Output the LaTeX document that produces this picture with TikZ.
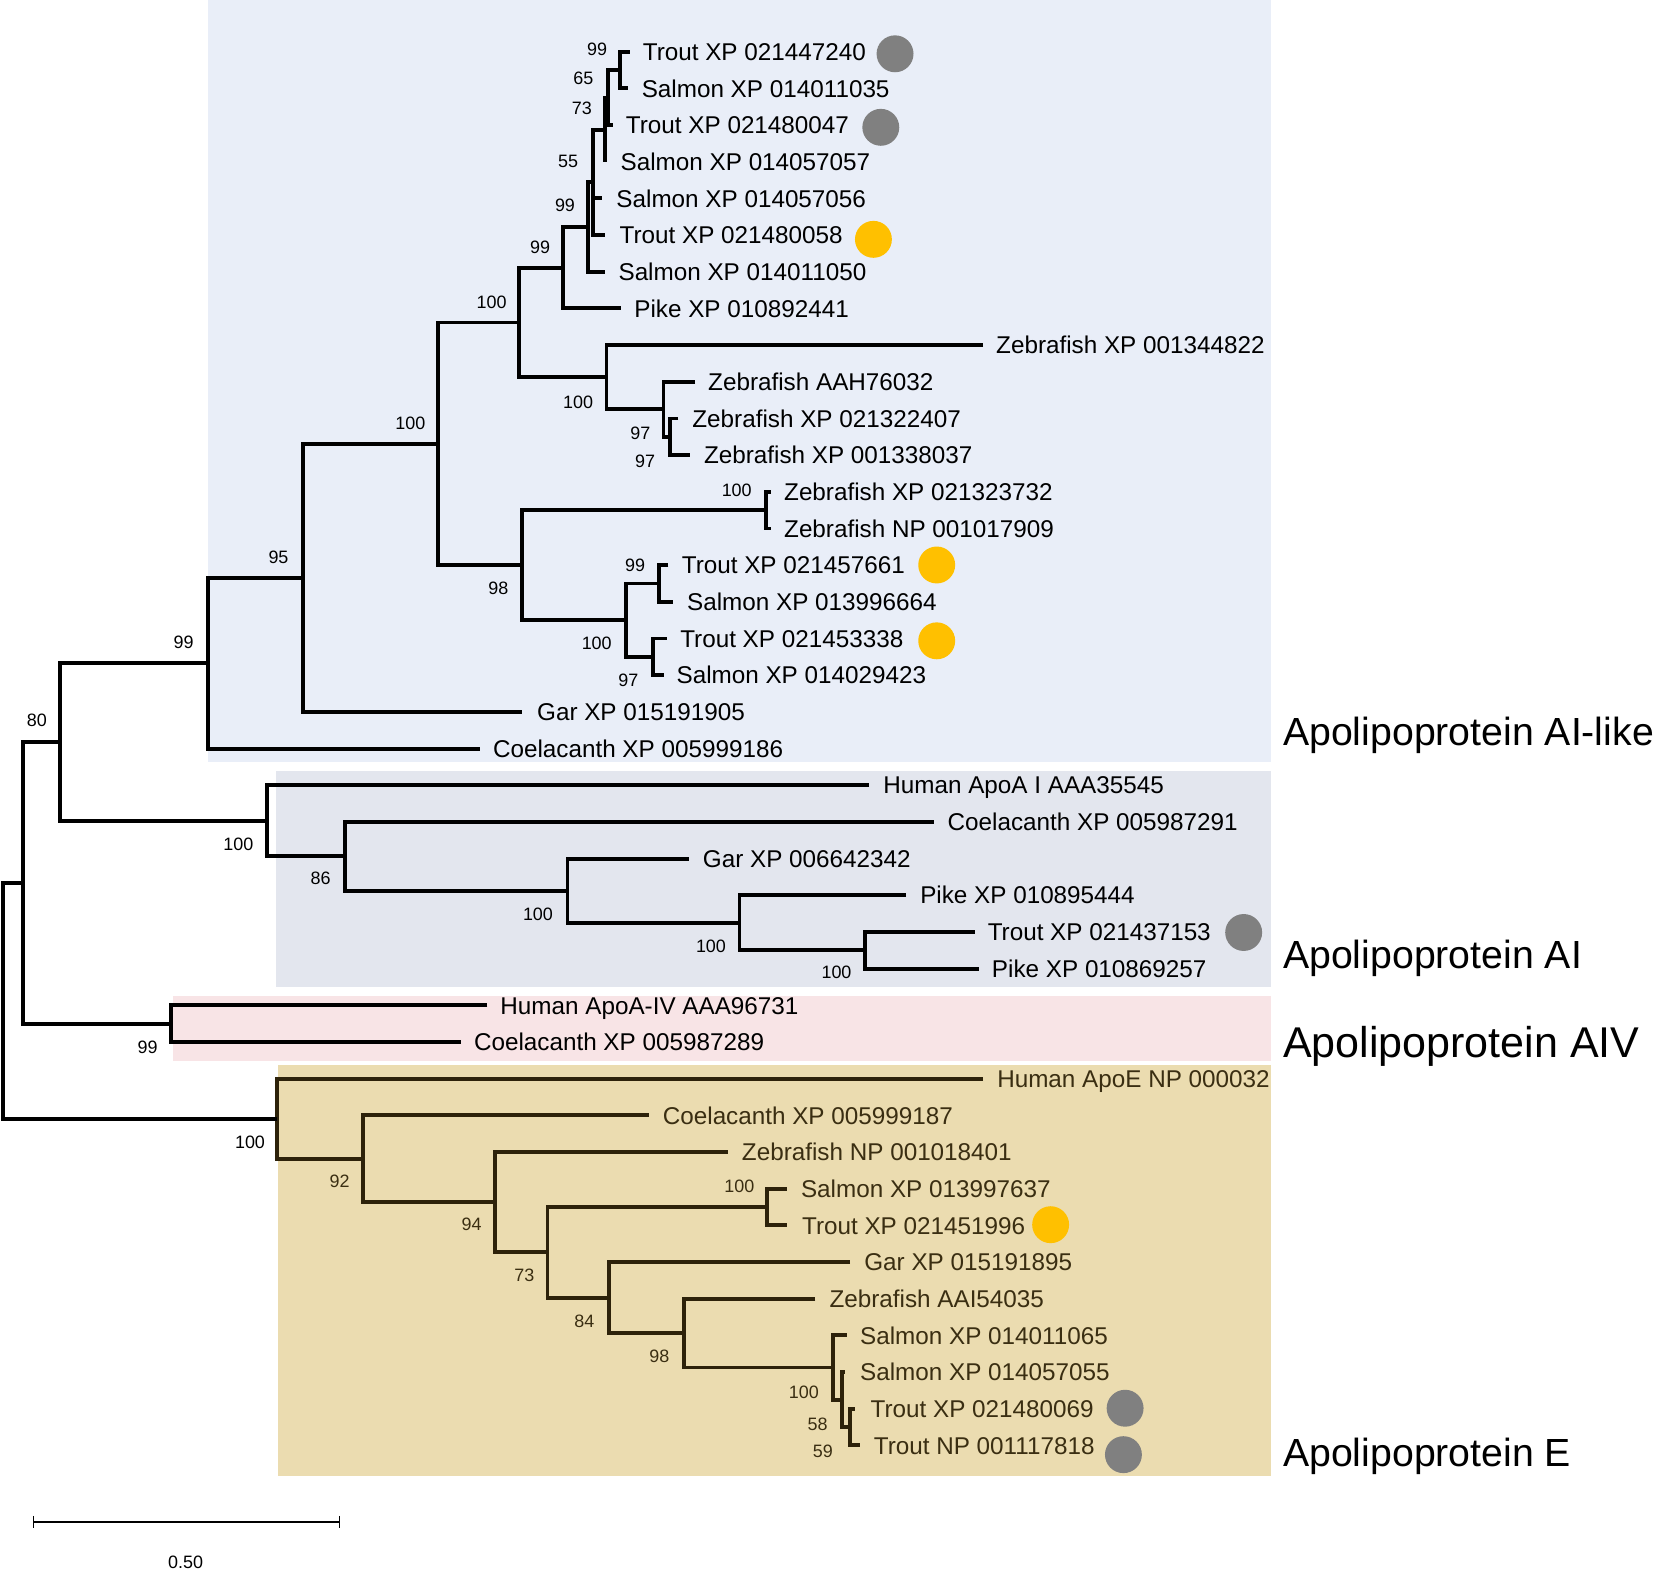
\documentclass[tikz,border=0pt]{standalone}
\usepackage{fontspec}
\setmainfont{Liberation Sans}
\usetikzlibrary{calc}
\definecolor{bgA}{RGB}{233,238,248}
\definecolor{bgB}{RGB}{227,230,238}
\definecolor{bgC}{RGB}{248,228,230}
\definecolor{bgD}{RGB}{235,220,176}
\definecolor{brn}{RGB}{45,34,10}
\definecolor{brntxt}{RGB}{58,46,18}
\definecolor{dotg}{RGB}{128,128,128}
\definecolor{doty}{RGB}{255,192,0}
\newcommand\mkleaf[5][]{%
  \coordinate (L#2) at (#3,{49+34.77*#2});
  \node[leaf,#1] (T#2) at (#4,{49+34.77*#2}) {#5};}
\newcommand\mknode[5][]{%
  \coordinate (#2m) at ($(#4)!0.5!(#5)$);
  \coordinate (#2) at (#3,0 |- #2m);
  \draw[br,#1] (#4) -| (#2) |- (#5);}
\begin{document}
\begin{tikzpicture}[x=0.5pt,y=-0.5pt,
  br/.style={line width=1.85pt},
  leaf/.style={anchor=west,inner sep=0pt,text height=8.25pt,text depth=0pt,font=\fontsize{11.5}{13}\selectfont},
  bs/.style={inner sep=0pt,font=\fontsize{8.5}{10}\selectfont},
  grp/.style={anchor=west,inner sep=0pt,text height=13.3pt,text depth=0pt,font=\fontsize{18.6}{22}\selectfont},
  dot/.style={circle,inner sep=0pt,minimum size=17.5pt,draw=none}]
\useasboundingbox (0,0) rectangle (1568,1488);
% backgrounds
\fill[bgA] (197,0) rectangle (1205,722);
\fill[bgB] (262,731) rectangle (1205,935.5);
\fill[bgC] (164,944) rectangle (1205,1005.5);
\fill[bgD] (264,1009.5) rectangle (1205,1399.5);
% leaves
\mkleaf{0}{597}{609}{Trout XP 021447240}
\mkleaf{1}{595}{608}{Salmon XP 014011035}
\mkleaf{2}{581}{593}{Trout XP 021480047}
\mkleaf{3}{573.6}{588}{Salmon XP 014057057}
\mkleaf{4}{570.4}{584}{Salmon XP 014057056}
\mkleaf{5}{574}{587}{Trout XP 021480058}
\mkleaf{6}{574}{586}{Salmon XP 014011050}
\mkleaf{7}{589}{601}{Pike XP 010892441}
\mkleaf{8}{932}{944}{Zebrafish XP 001344822}
\mkleaf{9}{659}{671}{Zebrafish AAH76032}
\mkleaf{10}{643}{656}{Zebrafish XP 021322407}
\mkleaf{11}{654}{667}{Zebrafish XP 001338037}
\mkleaf{12}{730.5}{743}{Zebrafish XP 021323732}
\mkleaf{13}{730.5}{743}{Zebrafish NP 001017909}
\mkleaf{14}{633.6}{646}{Trout XP 021457661}
\mkleaf{15}{638.4}{651}{Salmon XP 013996664}
\mkleaf{16}{632}{644.5}{Trout XP 021453338}
\mkleaf{17}{629}{641}{Salmon XP 014029423}
\mkleaf{18}{494.6}{508.8}{Gar XP 015191905}
\mkleaf{19}{455}{467}{Coelacanth XP 005999186}
\mkleaf{20}{824}{837}{Human ApoA I AAA35545}
\mkleaf{21}{885}{898}{Coelacanth XP 005987291}
\mkleaf{22}{653}{666}{Gar XP 006642342}
\mkleaf{23}{859}{872}{Pike XP 010895444}
\mkleaf{24}{924}{936}{Trout XP 021437153}
\mkleaf{25}{928}{940}{Pike XP 010869257}
\mkleaf{26}{462}{474}{Human ApoA-IV AAA96731}
\mkleaf{27}{437}{449}{Coelacanth XP 005987289}
\mkleaf[text=brntxt]{28}{932}{945}{Human ApoE NP 000032}
\mkleaf[text=brntxt]{29}{615}{628}{Coelacanth XP 005999187}
\mkleaf[text=brntxt]{30}{690}{703}{Zebrafish NP 001018401}
\mkleaf[text=brntxt]{31}{746}{759}{Salmon XP 013997637}
\mkleaf[text=brntxt]{32}{746}{760}{Trout XP 021451996}
\mkleaf[text=brntxt]{33}{806}{819}{Gar XP 015191895}
\mkleaf[text=brntxt]{34}{773}{786}{Zebrafish AAI54035}
\mkleaf[text=brntxt]{35}{802.7}{815}{Salmon XP 014011065}
\mkleaf[text=brntxt]{36}{801}{815}{Salmon XP 014057055}
\mkleaf[text=brntxt]{37}{810.5}{825}{Trout XP 021480069}
\mkleaf[text=brntxt]{38}{815.3}{828}{Trout NP 001117818}
% internal nodes
\mknode{na}{588}{L0}{L1}
\mknode{nb}{576.7}{na}{L2}
\mknode{nc}{573.6}{nb}{L3}
\mknode{nd}{562.5}{nc}{L5}
\draw[br] (nd |- L4) -- (L4);
\mknode{ne}{557.6}{nd}{L6}
\mknode{nf}{534}{ne}{L7}
\mknode{nj}{635.2}{L10}{L11}
\mknode{ni}{629}{L9}{nj}
\mknode{nh}{575}{L8}{ni}
\mknode{ng}{492}{nf}{nh}
\mknode{nk}{726}{L12}{L13}
\mknode{nl}{624.8}{L14}{L15}
\mknode{nm}{619.4}{L16}{L17}
\mknode{nn}{593.2}{nl}{nm}
\mknode{no}{494.6}{nk}{nn}
\mknode{np}{415}{ng}{no}
\mknode{nq}{287}{np}{L18}
\mknode{nr}{197}{nq}{L19}
\mknode{nu4}{820}{L24}{L25}
\mknode{nu3}{701}{L23}{nu4}
\mknode{nu2}{538}{L22}{nu3}
\mknode{nu1}{327}{L21}{nu2}
\mknode{nu0}{253}{L20}{nu1}
\mknode{ns}{57}{nr}{nu0}
\mknode{nv}{162}{L26}{L27}
\mknode{nt}{22}{ns}{nv}
\mknode[brn]{nw7}{805.8}{L37}{L38}
\mknode[brn]{nw6}{798}{L36}{nw7}
\mknode[brn]{nw5}{790}{L35}{nw6}
\mknode[brn]{nw4}{648}{L34}{nw5}
\mknode[brn]{nw3}{577}{L33}{nw4}
\mknode[brn]{nwb}{727}{L31}{L32}
\mknode[brn]{nw2}{519}{nwb}{nw3}
\mknode[brn]{nw1}{469}{L30}{nw2}
\mknode[brn]{nw0}{344}{L29}{nw1}
\mknode[brn]{nx}{263}{L28}{nw0}
\mknode{nroot}{3}{nt}{nx}
% bootstrap values
\foreach \px/\py/\v [count=\k] in {566/47/99,553/74/65,551.5/103/73,538.5/153/55,535.6/194.4/99,512/234/99,466/287/100,548/381/100,607/410.5/97,611.5/437.7/97,698.4/464.5/100,602/535.6/99,565.7/610/100,595.7/644.7/97,472.4/557.8/98,389/401/100,264/528/95,174/609/99,35/683/80,226/800/100,304/833/86,510/867/100,674/897/100,793/922/100,140/993/99,237/1083/100}
  \node[bs] (bs\k) at (\px,\py) {\v};
\foreach \px/\py/\v [count=\k] in {322/1120/92,447/1161/94,497/1209/73,554/1253/84,625/1286/98,701/1125/100,762/1320/100,775/1350/58,780/1376/59}
  \node[bs,text=brntxt] (be\k) at (\px,\py) {\v};
% markers
\node[dot,fill=dotg] (c0) at (848.5,51) {};
\node[dot,fill=dotg] (c2) at (835,120.7) {};
\node[dot,fill=doty] (c5) at (828,226.9) {};
\node[dot,fill=doty] (c14) at (888,535.6) {};
\node[dot,fill=doty] (c16) at (888,607.5) {};
\node[dot,fill=dotg] (c24) at (1179,884) {};
\node[dot,fill=doty] (c32) at (996,1161) {};
\node[dot,fill=dotg] (c37) at (1066.6,1335) {};
\node[dot,fill=dotg] (c38) at (1065,1379) {};
% group labels
\node[grp] (g1) at (1216,693.7) {Apolipoprotein AI-like};
\node[grp] (g2) at (1216,905) {Apolipoprotein AI};
\node[grp,text height=14.6pt,font=\fontsize{20.4}{24}\selectfont] (g3) at (1216,988) {Apolipoprotein AIV};
\node[grp] (g4) at (1216,1377) {Apolipoprotein E};
% scale bar
\coordinate (sb1) at (32,1443);
\coordinate (sb2) at (322,1443);
\draw[line width=0.7pt] (sb1) -- (sb2);
\draw[line width=0.7pt] ($(sb1)+(0,-6)$) -- ($(sb1)+(0,6)$);
\draw[line width=0.7pt] ($(sb2)+(0,-6)$) -- ($(sb2)+(0,6)$);
\node[bs] (sbl) at (176,1481) {0.50};
\end{tikzpicture}
\end{document}
